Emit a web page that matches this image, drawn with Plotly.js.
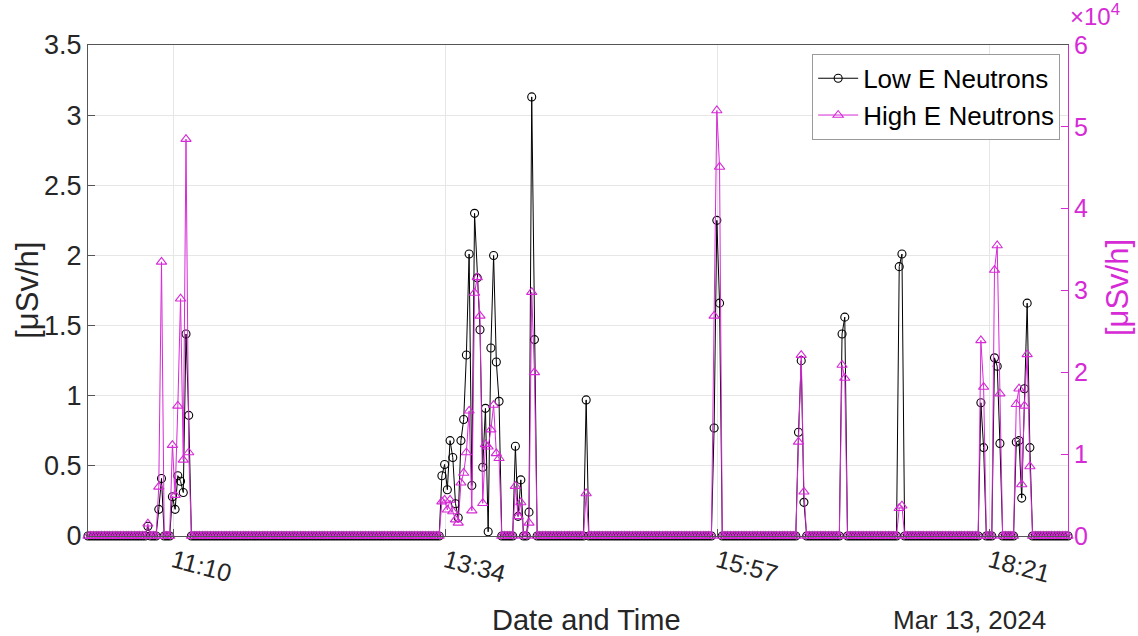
<!DOCTYPE html>
<html><head><meta charset="utf-8">
<script src="https://cdn.plot.ly/plotly-3.0.1.min.js"></script>
<style>html,body{margin:0;padding:0;background:#fff}#chart{width:1138px;height:636px}</style>
</head><body><div id="chart"></div>
<script>
// x = sample index (0..360); tick labels mark clock times
const tickPositions = [31.3, 131.3, 231.3, 331.3];
const tickLabels = ['11:10', '13:34', '15:57', '18:21'];
const dateLabel = 'Mar 13, 2024';
const rightTickVals = [0, 10000, 20000, 30000, 40000, 50000, 60000];
const rightTickText = ['0', '1', '2', '3', '4', '5', '6'];

// Low E Neutrons [µSv/h] (left axis)
const lowE = [
/*0*/   0,0,0,0,0,0,0,0,0,0,0,0,0,0,0,0,0,0,0,0,
/*20*/  0,0,0.07,0,0,0,0.19,0.41,0,0,0,0.28,0.19,0.43,0.39,0.31,1.44,0.86,0,0,
/*40*/  0,0,0,0,0,0,0,0,0,0,0,0,0,0,0,0,0,0,0,0,
/*60*/  0,0,0,0,0,0,0,0,0,0,0,0,0,0,0,0,0,0,0,0,
/*80*/  0,0,0,0,0,0,0,0,0,0,0,0,0,0,0,0,0,0,0,0,
/*100*/ 0,0,0,0,0,0,0,0,0,0,0,0,0,0,0,0,0,0,0,0,
/*120*/ 0,0,0,0,0,0,0,0,0,0,0.43,0.51,0.33,0.68,0.56,0.23,0.13,0.68,0.83,1.29,
/*140*/ 2.01,0.36,2.30,1.84,1.47,0.49,0.91,0.03,1.34,2.00,1.24,0.96,0,0,0,0,0,0.64,0.14,0.40,
/*160*/ 0,0,0.17,3.13,1.40,0,0,0,0,0,0,0,0,0,0,0,0,0,0,0,
/*180*/ 0,0,0,0.97,0,0,0,0,0,0,0,0,0,0,0,0,0,0,0,0,
/*200*/ 0,0,0,0,0,0,0,0,0,0,0,0,0,0,0,0,0,0,0,0,
/*220*/ 0,0,0,0,0,0,0,0,0,0,0.77,2.25,1.66,0,0,0,0,0,0,0,
/*240*/ 0,0,0,0,0,0,0,0,0,0,0,0,0,0,0,0,0,0,0,0,
/*260*/ 0,0.74,1.25,0.24,0,0,0,0,0,0,0,0,0,0,0,0,0,1.44,1.56,0,
/*280*/ 0,0,0,0,0,0,0,0,0,0,0,0,0,0,0,0,0,0,1.92,2.01,
/*300*/ 0,0,0,0,0,0,0,0,0,0,0,0,0,0,0,0,0,0,0,0,
/*320*/ 0,0,0,0,0,0,0,0,0.95,0.63,0,0,0,1.27,1.21,0.66,0,0,0,0,
/*340*/ 0,0.67,0.68,0.27,1.05,1.66,0.63,0,0,0,0,0,0,0,0,0,0,0,0,0,
/*360*/ 0
];

// High E Neutrons [µSv/h] (right axis)
const highE = [
/*0*/   0,0,0,0,0,0,0,0,0,0,0,0,0,0,0,0,0,0,0,0,
/*20*/  0,0,1500,0,0,0,6000,33500,0,0,0,11100,5000,15900,29000,9300,48500,10200,0,0,
/*40*/  0,0,0,0,0,0,0,0,0,0,0,0,0,0,0,0,0,0,0,0,
/*60*/  0,0,0,0,0,0,0,0,0,0,0,0,0,0,0,0,0,0,0,0,
/*80*/  0,0,0,0,0,0,0,0,0,0,0,0,0,0,0,0,0,0,0,0,
/*100*/ 0,0,0,0,0,0,0,0,0,0,0,0,0,0,0,0,0,0,0,0,
/*120*/ 0,0,0,0,0,0,0,0,0,0,4200,4400,3200,4400,3000,2000,1600,6500,7700,10200,
/*140*/ 15300,3100,29700,31600,26900,4000,11200,10900,13000,16000,10100,9500,0,0,0,0,0,6100,2400,4100,
/*160*/ 0,0,1600,29800,20000,0,0,0,0,0,0,0,0,0,0,0,0,0,0,0,
/*180*/ 0,0,0,5200,0,0,0,0,0,0,0,0,0,0,0,0,0,0,0,0,
/*200*/ 0,0,0,0,0,0,0,0,0,0,0,0,0,0,0,0,0,0,0,0,
/*220*/ 0,0,0,0,0,0,0,0,0,0,26900,52000,45100,0,0,0,0,0,0,0,
/*240*/ 0,0,0,0,0,0,0,0,0,0,0,0,0,0,0,0,0,0,0,0,
/*260*/ 0,11500,22100,5400,0,0,0,0,0,0,0,0,0,0,0,0,0,20900,19300,0,
/*280*/ 0,0,0,0,0,0,0,0,0,0,0,0,0,0,0,0,0,0,3400,3700,
/*300*/ 0,0,0,0,0,0,0,0,0,0,0,0,0,0,0,0,0,0,0,0,
/*320*/ 0,0,0,0,0,0,0,0,23900,18200,0,0,0,32500,35500,17400,0,0,0,0,
/*340*/ 0,16100,18000,6300,15900,22200,8500,0,0,0,0,0,0,0,0,0,0,0,0,0,
/*360*/ 0
];

const magenta = '#d62ad6';
const axisGray = '#555555';
const gridGray = '#e6e6e6';
const fontFam = 'Arial, "Liberation Sans", Helvetica, sans-serif';

const traces = [
  {y: lowE, name: 'Low E Neutrons', type: 'scatter', mode: 'lines+markers', yaxis: 'y',
   cliponaxis: false,
   line: {color: '#000000', width: 1},
   marker: {symbol: 'circle-open', size: 8, color: '#000000', line: {width: 1.1, color: '#000000'}}},
  {y: highE, name: 'High E Neutrons', type: 'scatter', mode: 'lines+markers', yaxis: 'y2',
   cliponaxis: false,
   line: {color: magenta, width: 1},
   marker: {symbol: 'triangle-up-open', size: 9, color: magenta, line: {width: 1.1, color: magenta}}}
];

const layout = {
  width: 1138, height: 636,
  margin: {l: 88, r: 70, t: 45, b: 100},
  paper_bgcolor: '#ffffff', plot_bgcolor: '#ffffff',
  font: {family: fontFam, size: 24, color: '#262626'},
  showlegend: true,
  legend: {x: 0.992, xanchor: 'right', y: 0.982, yanchor: 'top', bgcolor: '#ffffff',
           bordercolor: '#9a9a9a', borderwidth: 1, font: {size: 26, color: '#000000'},
           tracegroupgap: 0, itemwidth: 40},
  xaxis: {range: [0, 360], tickmode: 'array', tickvals: tickPositions, ticktext: tickLabels,
          tickangle: 15, showgrid: true, gridcolor: gridGray, zeroline: false,
          showline: true, linecolor: axisGray, linewidth: 1, mirror: true,
          ticks: 'inside', ticklen: 7, tickcolor: axisGray,
          tickfont: {size: 25, color: '#262626'}},
  yaxis: {range: [0, 3.5], tick0: 0, dtick: 0.5, showgrid: true, gridcolor: gridGray,
          zeroline: false, showline: true, linecolor: axisGray, linewidth: 1,
          ticks: 'inside', ticklen: 7, tickcolor: axisGray,
          tickfont: {size: 27, color: '#262626'}},
  yaxis2: {overlaying: 'y', side: 'right', range: [0, 60000], tickmode: 'array',
           tickvals: rightTickVals, ticktext: rightTickText, showgrid: false, zeroline: false,
           showline: true, linecolor: magenta, linewidth: 1,
           ticks: 'inside', ticklen: 7, tickcolor: magenta,
           tickfont: {size: 25, color: magenta}},
  annotations: [
    {text: 'Date and Time', xref: 'paper', yref: 'paper', x: 0.509, y: -0.171,
     xanchor: 'center', yanchor: 'middle', showarrow: false,
     font: {size: 29, color: '#262626'}},
    {text: dateLabel, xref: 'paper', yref: 'paper', x: 0.899, y: -0.171,
     xanchor: 'center', yanchor: 'middle', showarrow: false,
     font: {size: 26, color: '#262626'}},
    {text: '[μSv/h]', xref: 'paper', yref: 'paper', x: -0.062, y: 0.5,
     xanchor: 'center', yanchor: 'middle', textangle: -90, showarrow: false,
     font: {size: 31, color: '#262626'}},
    {text: '[μSv/h]', xref: 'paper', yref: 'paper', x: 1.05, y: 0.505,
     xanchor: 'center', yanchor: 'middle', textangle: -90, showarrow: false,
     font: {size: 31, color: magenta}},
    {text: '×10<sup>4</sup>', xref: 'paper', yref: 'paper', x: 1.0, y: 1.062,
     xanchor: 'left', yanchor: 'middle', showarrow: false,
     font: {size: 24, color: magenta}}
  ]
};

Plotly.newPlot('chart', traces, layout, {staticPlot: true, displayModeBar: false});
</script>
</body></html>
